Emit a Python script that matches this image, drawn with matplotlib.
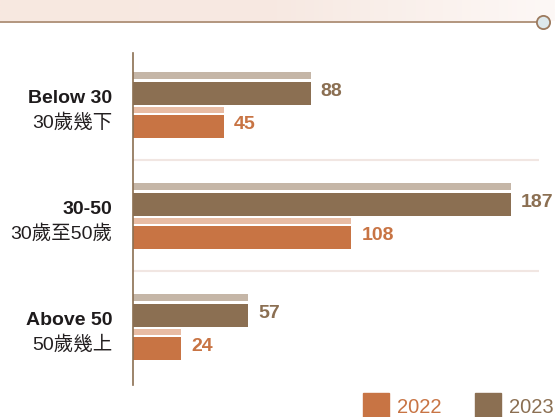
import numpy as np
import matplotlib
matplotlib.use("Agg")
import matplotlib.pyplot as plt
import matplotlib.transforms as mtransforms
from matplotlib.lines import Line2D
from matplotlib.patches import Rectangle
from matplotlib.colors import LinearSegmentedColormap

plt.rcParams['font.family'] = ['Liberation Sans', 'Noto Sans CJK TC', 'DejaVu Sans']

# data
cats_en = ["Below 30", "30-50", "Above 50"]
cats_zh = ["30歲幾下", "30歲至50歲", "50歲幾上"]
v2022 = [45, 108, 24]
v2023 = [88, 187, 57]
years = ["2022", "2023"]

c_dark = "#8B6F52"
c_dark_lt = "#C5B6A7"
c_org = "#C87444"
c_org_lt = "#E8BCA4"
c_grid = "#F1E6E2"
fs = 14

W, H = 555, 417
fig = plt.figure(figsize=(W / 100, H / 100), dpi=100)

# top banner
band = fig.add_axes([0, 1 - 21 / H, 1, 21 / H])
grad = np.linspace(0, 1, 256).reshape(1, -1)
cmap = LinearSegmentedColormap.from_list("b", ["#F8E8E0", "#F7E9E2", "#FDF8F6"])
band.imshow(grad, aspect="auto", cmap=cmap, extent=[0, 1, 0, 1])
band.axis("off")
yl = 1 - 22 / H
fig.add_artist(Line2D([0, 537 / W], [yl, yl], color="#A58468", lw=1.2))
fig.add_artist(Line2D([543 / W], [yl], marker="o", markersize=9.5,
                      mfc="#DDE8EC", mec="#9C7A5E", mew=1.3))

# main axes
ax = fig.add_axes([133 / W, (H - 385) / H, (539 - 133) / W, 332 / H])
y = np.arange(len(cats_en))
px = 1 / 111.0

ax.barh(y - 29.2 * px, v2023, height=7 * px, color=c_dark_lt)
ax.barh(y - 11.35 * px, v2023, height=23.3 * px, color=c_dark)
ax.barh(y + 5 * px, v2022, height=6.6 * px, color=c_org_lt)
ax.barh(y + 21.65 * px, v2022, height=23.3 * px, color=c_org)

for i in range(len(y)):
    ax.text(v2023[i] + 5, y[i] - 9.3 * px, str(v2023[i]), color=c_dark,
            fontsize=fs, fontweight="bold", va="baseline", ha="left")
    ax.text(v2022[i] + 5, y[i] + 24 * px, str(v2022[i]), color=c_org,
            fontsize=fs, fontweight="bold", va="baseline", ha="left")

for g in [0.5, 1.5]:
    ax.axhline(g, color=c_grid, lw=1.5, zorder=0)

trans = mtransforms.blended_transform_factory(ax.transAxes, ax.transData)
xlab = (112 - 133) / 406
for i in range(len(y)):
    ax.text(xlab, y[i] - 2.3 * px, cats_en[i], transform=trans, ha="right",
            va="baseline", fontsize=fs, fontweight="bold", color="#1E1B1C")
    ax.text(xlab, y[i] + 23.3 * px, cats_zh[i], transform=trans, ha="right",
            va="baseline", fontsize=fs, color="#231F20")

ax.set_xlim(0, 406 / 2.02)
ax.set_ylim(-0.468 + 332 / 111, -0.468)
for s in ["top", "right", "bottom"]:
    ax.spines[s].set_visible(False)
ax.spines["left"].set_color(c_dark)
ax.spines["left"].set_linewidth(1.2)
ax.set_xticks([])
ax.set_yticks([])

# legend
for x0, col, lab in [(363, c_org, years[0]), (475, c_dark, years[1])]:
    fig.add_artist(Rectangle((x0 / W, 0), 26 / W, (H - 393) / H,
                             transform=fig.transFigure, color=col))
    fig.text((x0 + 34) / W, 4 / H, lab, color=col, fontsize=14.5,
             ha="left", va="baseline")

fig.savefig("out.png", dpi=100)
